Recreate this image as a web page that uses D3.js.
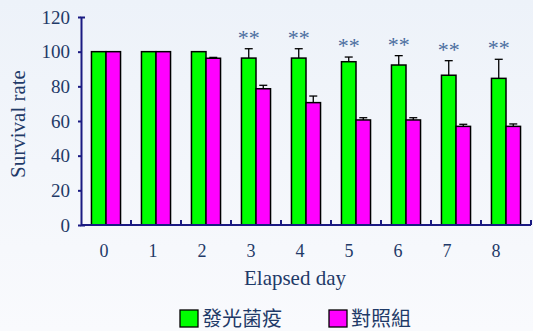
<!DOCTYPE html>
<html>
<head>
<meta charset="utf-8">
<script src="https://cdn.jsdelivr.net/npm/d3@7/dist/d3.min.js"></script>
<style>
  html, body { margin: 0; padding: 0; }
  body { width: 533px; height: 331px; overflow: hidden; }
  svg { display: block; }
</style>
</head>
<body>
<svg id="chart" width="533" height="331"></svg>
<script>
// Survival rate by elapsed day, vaccinated vs. control groups
const days = ["0", "1", "2", "3", "4", "5", "6", "7", "8"];
const groups = ["發光菌疫", "對照組"];
const vaccineRate = [100, 100, 100, 96.3, 96.3, 94.2, 92.3, 86.4, 84.6];
const vaccineErr = [0, 0, 0, 5.4, 5.4, 2.7, 5.4, 8.4, 11.0];
const controlRate = [100, 100, 96.2, 78.6, 70.6, 60.6, 60.6, 56.9, 56.9];
const controlErr = [0, 0, 0.5, 2.0, 3.8, 1.3, 1.3, 1.2, 1.4];
const significance = ["", "", "", "**", "**", "**", "**", "**", "**"];
const yTicks = [0, 20, 40, 60, 80, 100, 120];

const colors = { "發光菌疫": "#00ff00", "對照組": "#ff00ff" };
const textColor = "#1f3a68";
const axisColor = "#1a1a82";
const serif = "'Liberation Serif', 'Times New Roman', serif";
const cjk = "'Noto Sans CJK TC', 'Noto Sans CJK SC', sans-serif";

const svg = d3.select("#chart");

// soft bluish backdrop
const defs = svg.append("defs");
const grad = defs.append("linearGradient").attr("id", "bg")
  .attr("x1", 0).attr("y1", 0).attr("x2", 0).attr("y2", 1);
grad.append("stop").attr("offset", "0%").attr("stop-color", "#edf2f9");
grad.append("stop").attr("offset", "100%").attr("stop-color", "#f9fafd");
svg.append("rect").attr("width", 533).attr("height", 331).attr("fill", "url(#bg)");

const plot = { left: 81, right: 531, top: 17, bottom: 225 };

const x0 = d3.scaleBand().domain(days).range([plot.left, plot.right]).padding(0);
const x1 = d3.scaleBand().domain(groups).range([0, x0.bandwidth()])
  .paddingInner(0).paddingOuter(0.72);
const xLabel = d3.scalePoint().domain(days).range([104, 496]);
const y = d3.scaleLinear().domain([0, 120]).range([plot.bottom, plot.top]);

const rows = days.map((d, i) => ({
  day: d,
  sig: significance[i],
  bars: [
    { group: groups[0], value: vaccineRate[i], err: vaccineErr[i] },
    { group: groups[1], value: controlRate[i], err: controlErr[i] }
  ]
}));

// bars
const dayG = svg.append("g").selectAll("g").data(rows).join("g")
  .attr("transform", d => `translate(${x0(d.day)},0)`);

dayG.selectAll("rect").data(d => d.bars).join("rect")
  .attr("x", b => x1(b.group))
  .attr("y", b => y(b.value))
  .attr("width", x1.bandwidth())
  .attr("height", b => y(0) - y(b.value))
  .attr("fill", b => colors[b.group])
  .attr("stroke", "#000")
  .attr("stroke-width", 1.5);

// upper error bars
const errG = dayG.selectAll("g.err").data(d => d.bars.filter(b => b.err > 0)).join("g")
  .attr("class", "err")
  .attr("stroke", "#000").attr("stroke-width", 1.3);
errG.append("line")
  .attr("x1", b => x1(b.group) + x1.bandwidth() / 2)
  .attr("x2", b => x1(b.group) + x1.bandwidth() / 2)
  .attr("y1", b => y(b.value))
  .attr("y2", b => y(b.value + b.err));
errG.append("line")
  .attr("x1", b => x1(b.group) + x1.bandwidth() / 2 - 4)
  .attr("x2", b => x1(b.group) + x1.bandwidth() / 2 + 4)
  .attr("y1", b => y(b.value + b.err))
  .attr("y2", b => y(b.value + b.err));

// significance marks above the vaccinated bars
dayG.filter(d => d.sig).append("text")
  .attr("x", d => x1(groups[0]) + x1.bandwidth() / 2)
  .attr("y", d => y(d.bars[0].value + d.bars[0].err) - 4)
  .attr("text-anchor", "middle")
  .attr("font-family", serif)
  .attr("font-size", 22)
  .attr("fill", "#4a6d9e")
  .text(d => d.sig);

// y axis
const yAxis = svg.append("g").attr("transform", `translate(${plot.left},0)`)
  .call(d3.axisLeft(y).tickValues(yTicks).tickSizeInner(3).tickSizeOuter(-4).tickPadding(8));
yAxis.selectAll("path, line").attr("stroke", axisColor).attr("stroke-width", 2);
yAxis.selectAll("text").attr("font-family", serif).attr("font-size", 19).attr("fill", textColor);

// x axis: baseline with upward ticks at band edges
const xAxis = svg.append("g").attr("transform", `translate(0,${plot.bottom})`);
xAxis.append("line")
  .attr("x1", plot.left).attr("x2", plot.right)
  .attr("stroke", axisColor).attr("stroke-width", 2);
xAxis.selectAll("line.tick").data(days.slice(1).concat(["end"])).join("line")
  .attr("class", "tick")
  .attr("x1", d => d === "end" ? plot.right : x0(d))
  .attr("x2", d => d === "end" ? plot.right : x0(d))
  .attr("y1", 0).attr("y2", -5)
  .attr("stroke", axisColor).attr("stroke-width", 2);
xAxis.selectAll("text").data(days).join("text")
  .attr("x", d => xLabel(d))
  .attr("y", 32)
  .attr("text-anchor", "middle")
  .attr("font-family", serif).attr("font-size", 18)
  .attr("fill", textColor)
  .text(d => d);

// axis titles
svg.append("text")
  .attr("x", 295).attr("y", 285)
  .attr("text-anchor", "middle")
  .attr("font-family", serif).attr("font-size", 21)
  .attr("fill", textColor)
  .text("Elapsed day");
svg.append("text")
  .attr("transform", "translate(25,124) rotate(-90)")
  .attr("text-anchor", "middle")
  .attr("font-family", serif).attr("font-size", 21)
  .attr("fill", textColor)
  .text("Survival rate");

// legend
const legendX = [180, 329];
const legend = svg.append("g").selectAll("g").data(groups).join("g")
  .attr("transform", (d, i) => `translate(${legendX[i]},310)`);
legend.append("rect")
  .attr("width", 18).attr("height", 17)
  .attr("fill", d => colors[d])
  .attr("stroke", "#000").attr("stroke-width", 1.3);
legend.append("text")
  .attr("x", 22).attr("y", 16)
  .attr("font-family", cjk).attr("font-size", 20)
  .attr("fill", textColor)
  .text(d => d);
</script>
</body>
</html>
